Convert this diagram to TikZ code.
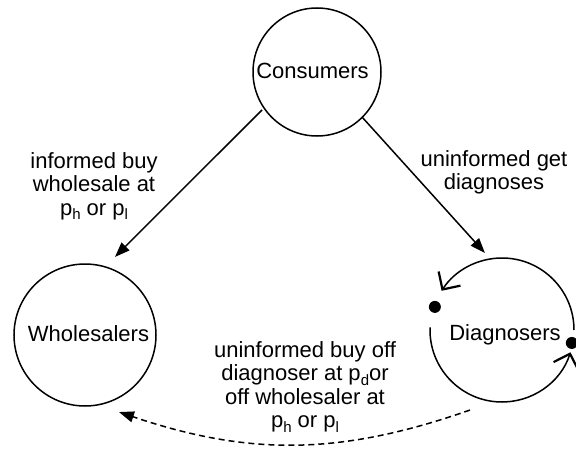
\documentclass[tikz,border=0pt]{standalone}
\usepackage{fontspec}
\setmainfont{Liberation Sans}
\usetikzlibrary{arrows.meta}
\newcommand{\lowsub}[1]{\raisebox{-4.5pt}{\fontsize{15}{15}\selectfont #1}}
\begin{document}
\begin{tikzpicture}[x=1pt,y=1pt,
  lw/.style={line width=1.5pt},
  bubble/.style={circle, draw, lw, inner sep=0pt, outer sep=0pt, minimum size=#1},
  lbl/.style={font=\fontsize{22}{23.5}\selectfont, inner sep=0pt, align=center},
  flow/.style={lw, -{Triangle[length=15pt,width=11pt]}},
  cyc/.style={lw, -{Straight Barb[length=13pt,width=26pt,line width=2.2pt]}},
]
\useasboundingbox (0,0) rectangle (576,451);
\node[bubble=128pt] (cons) at (317,379) {};
\node[bubble=142pt] (whol) at (85,116) {};
\node[circle, inner sep=0pt, outer sep=0pt, minimum size=144pt] (diag) at (502,121) {};
\node[lbl, anchor=base] (constext) at (312.5,373) {Consumers};
\node[lbl, anchor=base] (wholtext) at (88.5,109.3) {Wholesalers};
\node[lbl, anchor=base] (diagtext) at (505,111) {Diagnosers};
% diagnoser cycle
\draw[cyc] ([shift={(0:72)}]diag.center) arc[start angle=0, end angle=147, radius=72];
\draw[cyc] ([shift={(178:72)}]diag.center) arc[start angle=178, end angle=342, radius=72];
\fill ([shift={(161:71)}]diag.center) circle[radius=6];
\fill ([shift={(-10.5:71)}]diag.center) circle[radius=6];
% flows
\draw[flow] ([shift={(214.6:66.8)}]cons.center) -- ([shift={(69:83.6)}]whol.center);
\draw[flow] ([shift={(-45:63.6)}]cons.center) -- ([shift={(102.5:78.9)}]diag.center);
\draw[flow, dash pattern=on 6pt off 4pt] ([shift={(248.2:86.2)}]diag.center) to[bend left=19] ([shift={(-66.2:84.2)}]whol.center);
% labels
\node[lbl, anchor=north] (lefttxt) at (94,298.75) {informed buy\\wholesale at\\p\lowsub{h} or p\lowsub{l}};
\node[lbl, anchor=north] (righttxt) at (494,300.75) {uninformed get\\diagnoses};
\node[lbl, anchor=north] (bottxt) at (305,109.75) {uninformed buy off\\diagnoser at p\lowsub{d}or\\off wholesaler at\\p\lowsub{h} or p\lowsub{l}};
\end{tikzpicture}
\end{document}
